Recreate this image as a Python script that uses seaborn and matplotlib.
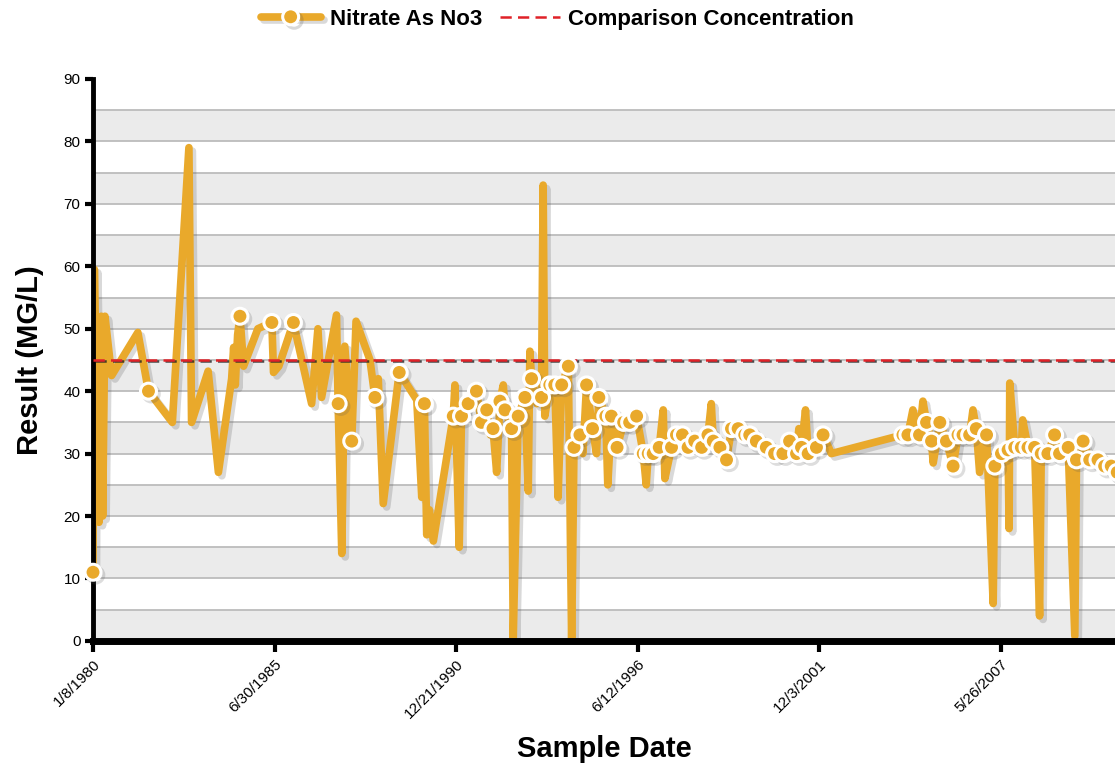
import pandas as pd
import seaborn as sns
import matplotlib.pyplot as plt
import matplotlib.patheffects as pe
from matplotlib.lines import Line2D

# Sample dates (decimal years) and results.
# Rows of the three lists line up with each other.
sample_year = [
    1980.02, 1980.06, 1980.20, 1980.27, 1980.31, 1980.38, 1980.58, 1981.37, 1981.69, 1982.41,
    1982.91, 1982.99, 1983.49, 1983.80, 1984.20, 1984.26, 1984.31, 1984.38, 1984.45, 1984.56,
    1984.99, 1985.41, 1985.46, 1985.62, 1986.06, 1986.61, 1986.80, 1986.91, 1987.36, 1987.41,
    1987.52, 1987.61, 1987.82, 1987.95, 1988.37, 1988.52, 1988.62, 1988.77, 1989.25, 1989.78,
    1989.93, 1990.01, 1990.08, 1990.16, 1990.28, 1990.88, 1990.93, 1991.06, 1991.13, 1991.33,
    1991.58, 1991.73, 1991.89, 1992.00, 1992.08, 1992.19, 1992.29, 1992.39, 1992.44, 1992.64,
    1992.69, 1992.84, 1993.04, 1993.14, 1993.19, 1993.24, 1993.40, 1993.54, 1993.59, 1993.64,
    1993.79, 1993.94, 1994.04, 1994.15, 1994.35, 1994.45, 1994.52, 1994.70, 1994.79, 1994.90,
    1995.08, 1995.20, 1995.27, 1995.48, 1995.54, 1995.65, 1995.82, 1996.02, 1996.20, 1996.41,
    1996.61, 1996.70, 1996.76, 1996.91, 1997.09, 1997.21, 1997.26, 1997.46, 1997.61, 1997.79,
    1997.96, 1998.16, 1998.37, 1998.56, 1998.66, 1998.72, 1998.92, 1999.12, 1999.27, 1999.47,
    1999.67, 1999.82, 2000.02, 2000.32, 2000.57, 2000.82, 2001.02, 2001.23, 2001.30, 2001.38,
    2001.50, 2001.58, 2001.83, 2002.03, 2002.28, 2004.44, 2004.59, 2004.74, 2004.94, 2005.04,
    2005.15, 2005.30, 2005.35, 2005.55, 2005.75, 2005.95, 2006.10, 2006.25, 2006.45, 2006.55,
    2006.65, 2006.75, 2006.96, 2007.16, 2007.21, 2007.41, 2007.61, 2007.64, 2007.66, 2007.81,
    2008.01, 2008.05, 2008.21, 2008.41, 2008.56, 2008.61, 2008.81, 2009.01, 2009.16, 2009.42,
    2009.62, 2009.67, 2009.87, 2010.07, 2010.32, 2010.52, 2010.72, 2010.90,
]
nitrate = [
    11, 59.5, 19, 52, 20, 52, 42.5, 49.4, 40, 35,
    79, 35, 43.2, 27, 42, 47, 41, 49, 52, 44,
    50, 51, 43, 44, 51, 38, 50, 39, 52.2, 38,
    14, 47.2, 32, 51.2, 45, 39, 42, 22, 43, 38.6,
    23, 38, 17, 21, 16, 36, 41, 15, 36, 38,
    40, 35, 37, 33, 34, 27, 38.4, 41, 37, 34,
    0.5, 36, 39, 24, 46.4, 42, 38, 39, 73, 36,
    41, 41, 23, 41, 44, 0, 31, 33, 30, 41,
    34, 30, 39, 36, 25, 36, 31, 35, 35, 36,
    30, 25, 30, 30, 31, 37, 26, 31, 33, 33,
    31, 32, 31, 33, 38, 32, 31, 29, 34, 34,
    33, 33, 32, 31, 30, 30, 32, 30, 34, 31,
    37, 30, 31, 33, 30, 33, 33, 37, 33, 38.4,
    35, 32, 28.5, 35, 32, 28, 33, 33, 33, 37,
    34, 27, 33, 6, 28, 30, 30.6, 18, 41.3, 31,
    31, 35.4, 31, 31, 4, 30, 30, 33, 30, 31,
    0.8, 29, 32, 29, 29, 28, 28, 27,
]
# 1 where the chart shows a point marker on the sample
has_marker = [
    1, 0, 0, 0, 0, 0, 0, 0, 1, 0,
    0, 0, 0, 0, 0, 0, 0, 0, 1, 0,
    0, 1, 0, 0, 1, 0, 0, 0, 0, 1,
    0, 0, 1, 0, 0, 1, 0, 0, 1, 0,
    0, 1, 0, 0, 0, 1, 0, 0, 1, 1,
    1, 1, 1, 0, 1, 0, 1, 0, 1, 1,
    0, 1, 1, 0, 0, 1, 0, 1, 0, 0,
    1, 1, 0, 1, 1, 0, 1, 1, 0, 1,
    1, 0, 1, 1, 0, 1, 1, 1, 1, 1,
    1, 0, 1, 1, 1, 0, 0, 1, 1, 1,
    1, 1, 1, 1, 0, 1, 1, 1, 1, 1,
    1, 1, 1, 1, 1, 1, 1, 1, 0, 1,
    0, 1, 1, 1, 0, 1, 1, 0, 1, 0,
    1, 1, 0, 1, 1, 1, 1, 1, 1, 0,
    1, 0, 1, 0, 1, 1, 1, 0, 0, 1,
    1, 0, 1, 1, 0, 1, 1, 1, 1, 1,
    0, 1, 1, 1, 1, 1, 1, 1,
]

comparison_value = 45
tick_dates = ['1980-01-08', '1985-06-30', '1990-12-21', '1996-06-12', '2001-12-03', '2007-05-26']
tick_labels = ['1/8/1980', '6/30/1985', '12/21/1990', '6/12/1996', '12/3/2001', '5/26/2007']

orange = '#e9a92b'
red = '#e02128'


def to_date(y):
    # decimal year -> timestamp
    return pd.Timestamp(int(y), 1, 1) + pd.Timedelta(days=(y - int(y)) * 365.25)


df = pd.DataFrame({'date': [to_date(y) for y in sample_year],
                   'result': nitrate,
                   'marked': [m == 1 for m in has_marker]})

sns.set_theme(style='white')
plt.rcParams['font.family'] = ['Liberation Sans', 'DejaVu Sans']
plt.rcParams['text.color'] = 'black'
plt.rcParams['axes.labelcolor'] = 'black'
plt.rcParams['xtick.color'] = 'black'
plt.rcParams['ytick.color'] = 'black'

fig = plt.figure(figsize=(11.15, 7.63), dpi=100)
ax = fig.add_axes([0.0834, 0.16, 0.9166, 0.7365])

# Alternating bands and grid every 5 units
for k in range(0, 90, 10):
    ax.axhspan(k, k + 5, color='#ebebeb', zorder=0, lw=0)
for k in range(5, 90, 5):
    ax.axhline(k, color='#bcbcbc', lw=1.3, zorder=0.5)

shadow = [pe.SimpleLineShadow(offset=(2.5, -2.5), shadow_color='#555555', alpha=0.22), pe.Normal()]

sns.lineplot(data=df, x='date', y='result', ax=ax, color=orange, linewidth=5.5,
             estimator=None, sort=False, legend=False, zorder=2, path_effects=shadow)

ax.axhline(comparison_value, color=red, lw=1.8, ls=(0, (4.5, 2.5)), zorder=3,
           path_effects=[pe.SimpleLineShadow(offset=(1.5, -1), shadow_color='#222222', alpha=0.8),
                         pe.Normal()])

marked = df[df['marked']]
ax.plot(marked['date'], marked['result'], ls='none', marker='o', ms=11.5,
        mfc=orange, mec='white', mew=2.2, zorder=5, clip_on=False,
        path_effects=[pe.SimpleLineShadow(offset=(2, -2), shadow_color='#555555', alpha=0.2),
                      pe.Normal()])

ax.set_ylim(0, 90)
ax.set_xlim(pd.Timestamp('1980-01-08'), pd.Timestamp('2010-11-01'))
ax.set_yticks(range(0, 91, 10))
ax.set_xticks(pd.to_datetime(tick_dates))
ax.set_xticklabels(tick_labels, rotation=45, ha='right', rotation_mode='anchor')
ax.tick_params(axis='y', length=6, width=3, labelsize=11, pad=3, color='black', left=True)
ax.tick_params(axis='x', length=8, width=3, labelsize=11, pad=4, color='black', bottom=True)

for side in ['top', 'right']:
    ax.spines[side].set_visible(False)
ax.spines['left'].set_linewidth(3.5)
ax.spines['left'].set_color('black')
ax.spines['bottom'].set_linewidth(5)
ax.spines['bottom'].set_color('black')
ax.set_facecolor('white')

ax.set_xlabel('Sample Date', fontsize=21, fontweight='bold', labelpad=10)
ax.set_ylabel('Result (MG/L)', fontsize=21, fontweight='bold', labelpad=14)

handles = [
    Line2D([], [], color=orange, lw=5.5, marker='o', ms=11.5, mfc=orange, mec='white', mew=2.2,
           path_effects=shadow),
    Line2D([], [], color=red, lw=1.8, ls=(0, (4.5, 2.5))),
]
fig.legend(handles, ['Nitrate As No3', 'Comparison Concentration'], loc='upper center',
           bbox_to_anchor=(0.5, 1.015), ncol=2, frameon=False,
           prop={'weight': 'bold', 'size': 16}, handlelength=2.7, handletextpad=0.4,
           columnspacing=0.8)

fig.savefig('out.png', dpi=100)
